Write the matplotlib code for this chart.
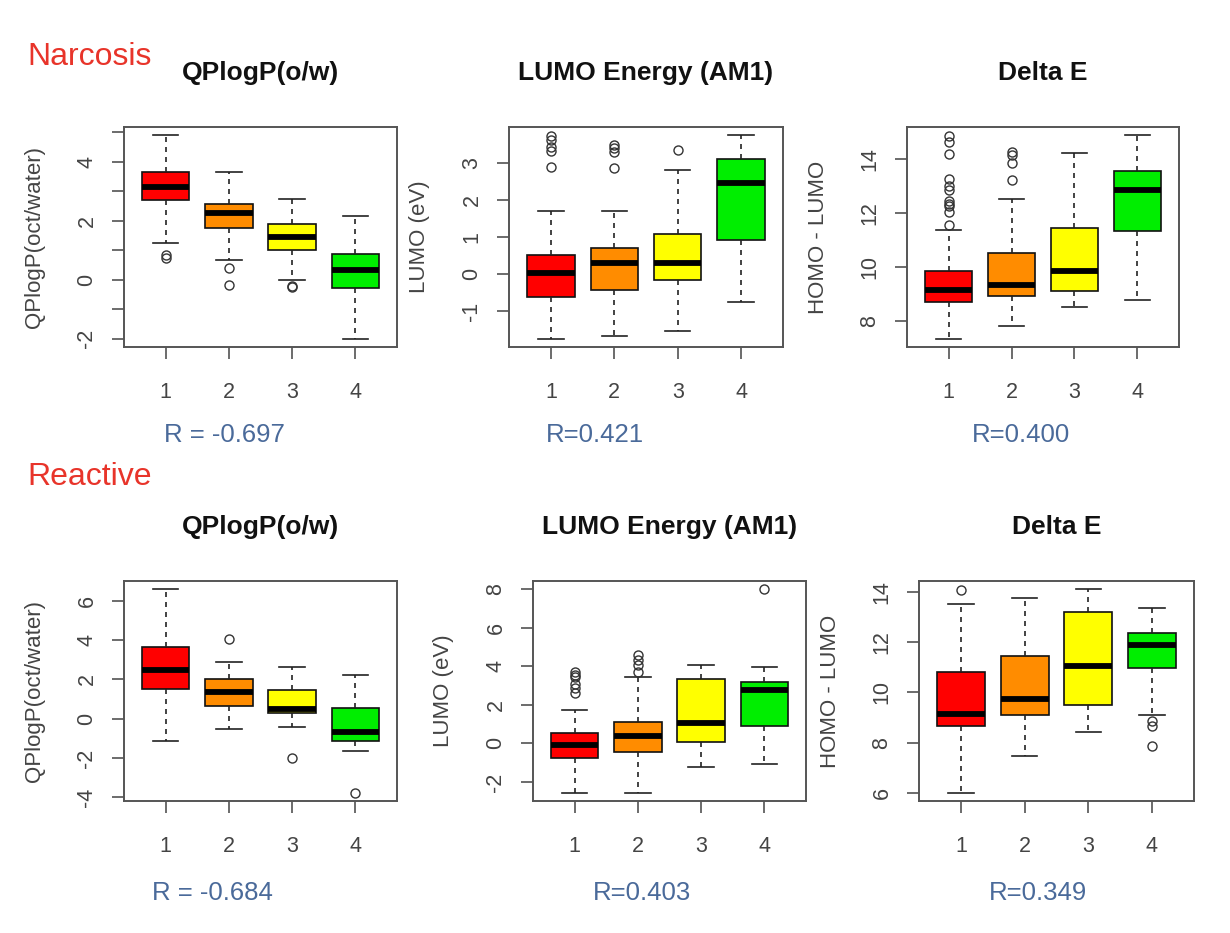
import matplotlib.pyplot as plt

plt.rcParams['font.family'] = ['Liberation Sans', 'DejaVu Sans']

groups = [1, 2, 3, 4]
box_colors = ['#FF0000', '#FF8C00', '#FFFF00', '#00EE00']

# --- Narcosis: QPlogP(o/w)
n1_lo = [1.25, 0.66, 0.00, -2.00]
n1_q1 = [2.70, 1.77, 1.02, -0.28]
n1_med = [3.15, 2.26, 1.45, 0.34]
n1_q3 = [3.66, 2.58, 1.88, 0.86]
n1_hi = [4.90, 3.66, 2.73, 2.16]
n1_out = [[0.83, 0.75], [0.40, -0.16], [-0.20, -0.25], []]

# --- Narcosis: LUMO Energy (AM1)
n2_lo = [-1.75, -1.66, -1.54, -0.76]
n2_q1 = [-0.62, -0.44, -0.17, 0.93]
n2_med = [0.03, 0.31, 0.31, 2.46]
n2_q3 = [0.52, 0.71, 1.09, 3.10]
n2_hi = [1.70, 1.70, 2.82, 3.75]
n2_out = [[3.73, 3.63, 3.42, 3.32, 2.88], [3.48, 3.39, 3.30, 2.86], [3.36], []]

# --- Narcosis: Delta E
n3_lo = [7.34, 7.81, 8.51, 8.79]
n3_q1 = [8.70, 8.92, 9.13, 11.32]
n3_med = [9.16, 9.32, 9.84, 12.85]
n3_q3 = [9.84, 10.52, 11.46, 13.55]
n3_hi = [11.39, 12.51, 14.21, 14.89]
n3_out = [[14.85, 14.65, 14.20, 13.25, 13.00, 12.85, 12.45, 12.35, 12.25, 12.05, 11.55],
          [14.27, 14.17, 13.86, 13.24], [], []]

# --- Reactive: QPlogP(o/w)
r1_lo = [-1.16, -0.55, -0.43, -1.65]
r1_q1 = [1.50, 0.65, 0.31, -1.16]
r1_med = [2.47, 1.36, 0.48, -0.68]
r1_q3 = [3.66, 2.01, 1.45, 0.56]
r1_hi = [6.59, 2.86, 2.61, 2.21]
r1_out = [[], [4.04], [-1.99], [-3.78]]

# --- Reactive: LUMO Energy (AM1)
r2_lo = [-2.56, -2.56, -1.21, -1.09]
r2_q1 = [-0.73, -0.43, 0.09, 0.90]
r2_med = [-0.09, 0.38, 1.04, 2.77]
r2_q3 = [0.52, 1.12, 3.32, 3.20]
r2_hi = [1.73, 3.46, 4.07, 3.98]
r2_out = [[3.72, 3.55, 3.46, 3.08, 2.85, 2.60], [4.58, 4.33, 4.07, 3.72], [], [7.99]]

# --- Reactive: Delta E
r3_lo = [6.00, 7.48, 8.44, 9.10]
r3_q1 = [8.68, 9.08, 9.48, 10.97]
r3_med = [9.13, 9.75, 11.07, 11.87]
r3_q3 = [10.81, 11.44, 13.20, 12.35]
r3_hi = [13.51, 13.77, 14.11, 13.37]
r3_out = [[14.08], [], [], [8.85, 8.65, 7.87]]

titles = ['QPlogP(o/w)', 'LUMO Energy (AM1)', 'Delta E'] * 2
ylabels = ['QPlogP(oct/water)', 'LUMO (eV)', 'HOMO - LUMO'] * 2
r_texts = ['R = -0.697', 'R=0.421', 'R=0.400', 'R = -0.684', 'R=0.403', 'R=0.349']
section_names = ['Narcosis', 'Reactive']

panels = [
    (n1_lo, n1_q1, n1_med, n1_q3, n1_hi, n1_out),
    (n2_lo, n2_q1, n2_med, n2_q3, n2_hi, n2_out),
    (n3_lo, n3_q1, n3_med, n3_q3, n3_hi, n3_out),
    (r1_lo, r1_q1, r1_med, r1_q3, r1_hi, r1_out),
    (r2_lo, r2_q1, r2_med, r2_q3, r2_hi, r2_out),
    (r3_lo, r3_q1, r3_med, r3_q3, r3_hi, r3_out),
]
yticks = [range(-2, 6), range(-1, 4), range(8, 15, 2),
          range(-4, 7, 2), range(-2, 9, 2), range(6, 15, 2)]
ytick_shown = [[4, 2, 0, -2], None, None, None, None, None]

W, H = 1230, 933
# axes boxes in pixels: left, top, right, bottom
boxes_px = [(124, 127, 397, 347), (509, 127, 783, 347), (907, 127, 1179, 347),
            (124, 581, 397, 801), (533, 581, 806, 801), (919, 581, 1194, 801)]
r_pos = [(224, 435), (595, 435), (1021, 435), (212, 893), (642, 893), (1038, 893)]
sec_pos = [(27, 57), (27, 477)]

grey = '#444444'
fig = plt.figure(figsize=(W / 100, H / 100), dpi=100)

for i, (lo, q1, med, q3, hi, out) in enumerate(panels):
    l, t, r, b = boxes_px[i]
    ax = fig.add_axes([l / W, 1 - b / H, (r - l) / W, (b - t) / H])
    stats = [dict(whislo=lo[k], q1=q1[k], med=med[k], q3=q3[k], whishi=hi[k], fliers=out[k])
             for k in range(4)]
    bp = ax.bxp(stats, positions=groups, widths=0.75, capwidths=0.4, patch_artist=True,
                boxprops=dict(edgecolor='#111111', linewidth=1.2),
                medianprops=dict(color='black', linewidth=4.2, solid_capstyle='butt'),
                whiskerprops=dict(color='#222222', linewidth=1.2, linestyle=(0, (3, 3))),
                capprops=dict(color='#222222', linewidth=1.2),
                flierprops=dict(marker='o', markerfacecolor='none', markeredgecolor='#333333',
                                markersize=6.5, markeredgewidth=1.0))
    for patch, c in zip(bp['boxes'], box_colors):
        patch.set_facecolor(c)

    vals = lo + hi + [v for f in out for v in f]
    vmin, vmax = min(vals), max(vals)
    pad = 0.04 * (vmax - vmin)
    ax.set_ylim(vmin - pad, vmax + pad)
    ax.set_xlim(0.34, 4.66)

    ax.set_xticks(groups)
    ax.set_xticklabels([str(g) for g in groups])
    yt = list(yticks[i])
    ax.set_yticks(yt)
    shown = ytick_shown[i]
    ax.set_yticklabels([str(v) if (shown is None or v in shown) else '' for v in yt])
    ax.tick_params(axis='both', length=8.6, width=1.1, color=grey, labelcolor=grey,
                   labelsize=15.5)
    ax.tick_params(axis='x', pad=16.5)
    ax.tick_params(axis='y', pad=10.5)
    plt.setp(ax.get_yticklabels(), rotation=90, va='center', ha='right')

    for sp in ax.spines.values():
        sp.set_color('#555555')
        sp.set_linewidth(1.4)

    ax.set_ylabel(ylabels[i], fontsize=16, color=grey)
    ax.yaxis.label.set_va('center')
    ax.yaxis.set_label_coords(-89 / (r - l), 0.5)

    ax.text(0.5, 1 + 54 / (b - t), titles[i], transform=ax.transAxes, ha='center',
            va='center', fontsize=19, fontweight='bold', color='#111111')

    fig.text(r_pos[i][0] / W, 1 - r_pos[i][1] / H, r_texts[i], ha='center', va='center',
             fontsize=18.5, color='#4A6A9A')

for name, (x, y) in zip(section_names, sec_pos):
    fig.text(x / W, 1 - y / H, name, ha='left', va='center', fontsize=23, color='#E8342A')

fig.savefig('out.png', dpi=100)
